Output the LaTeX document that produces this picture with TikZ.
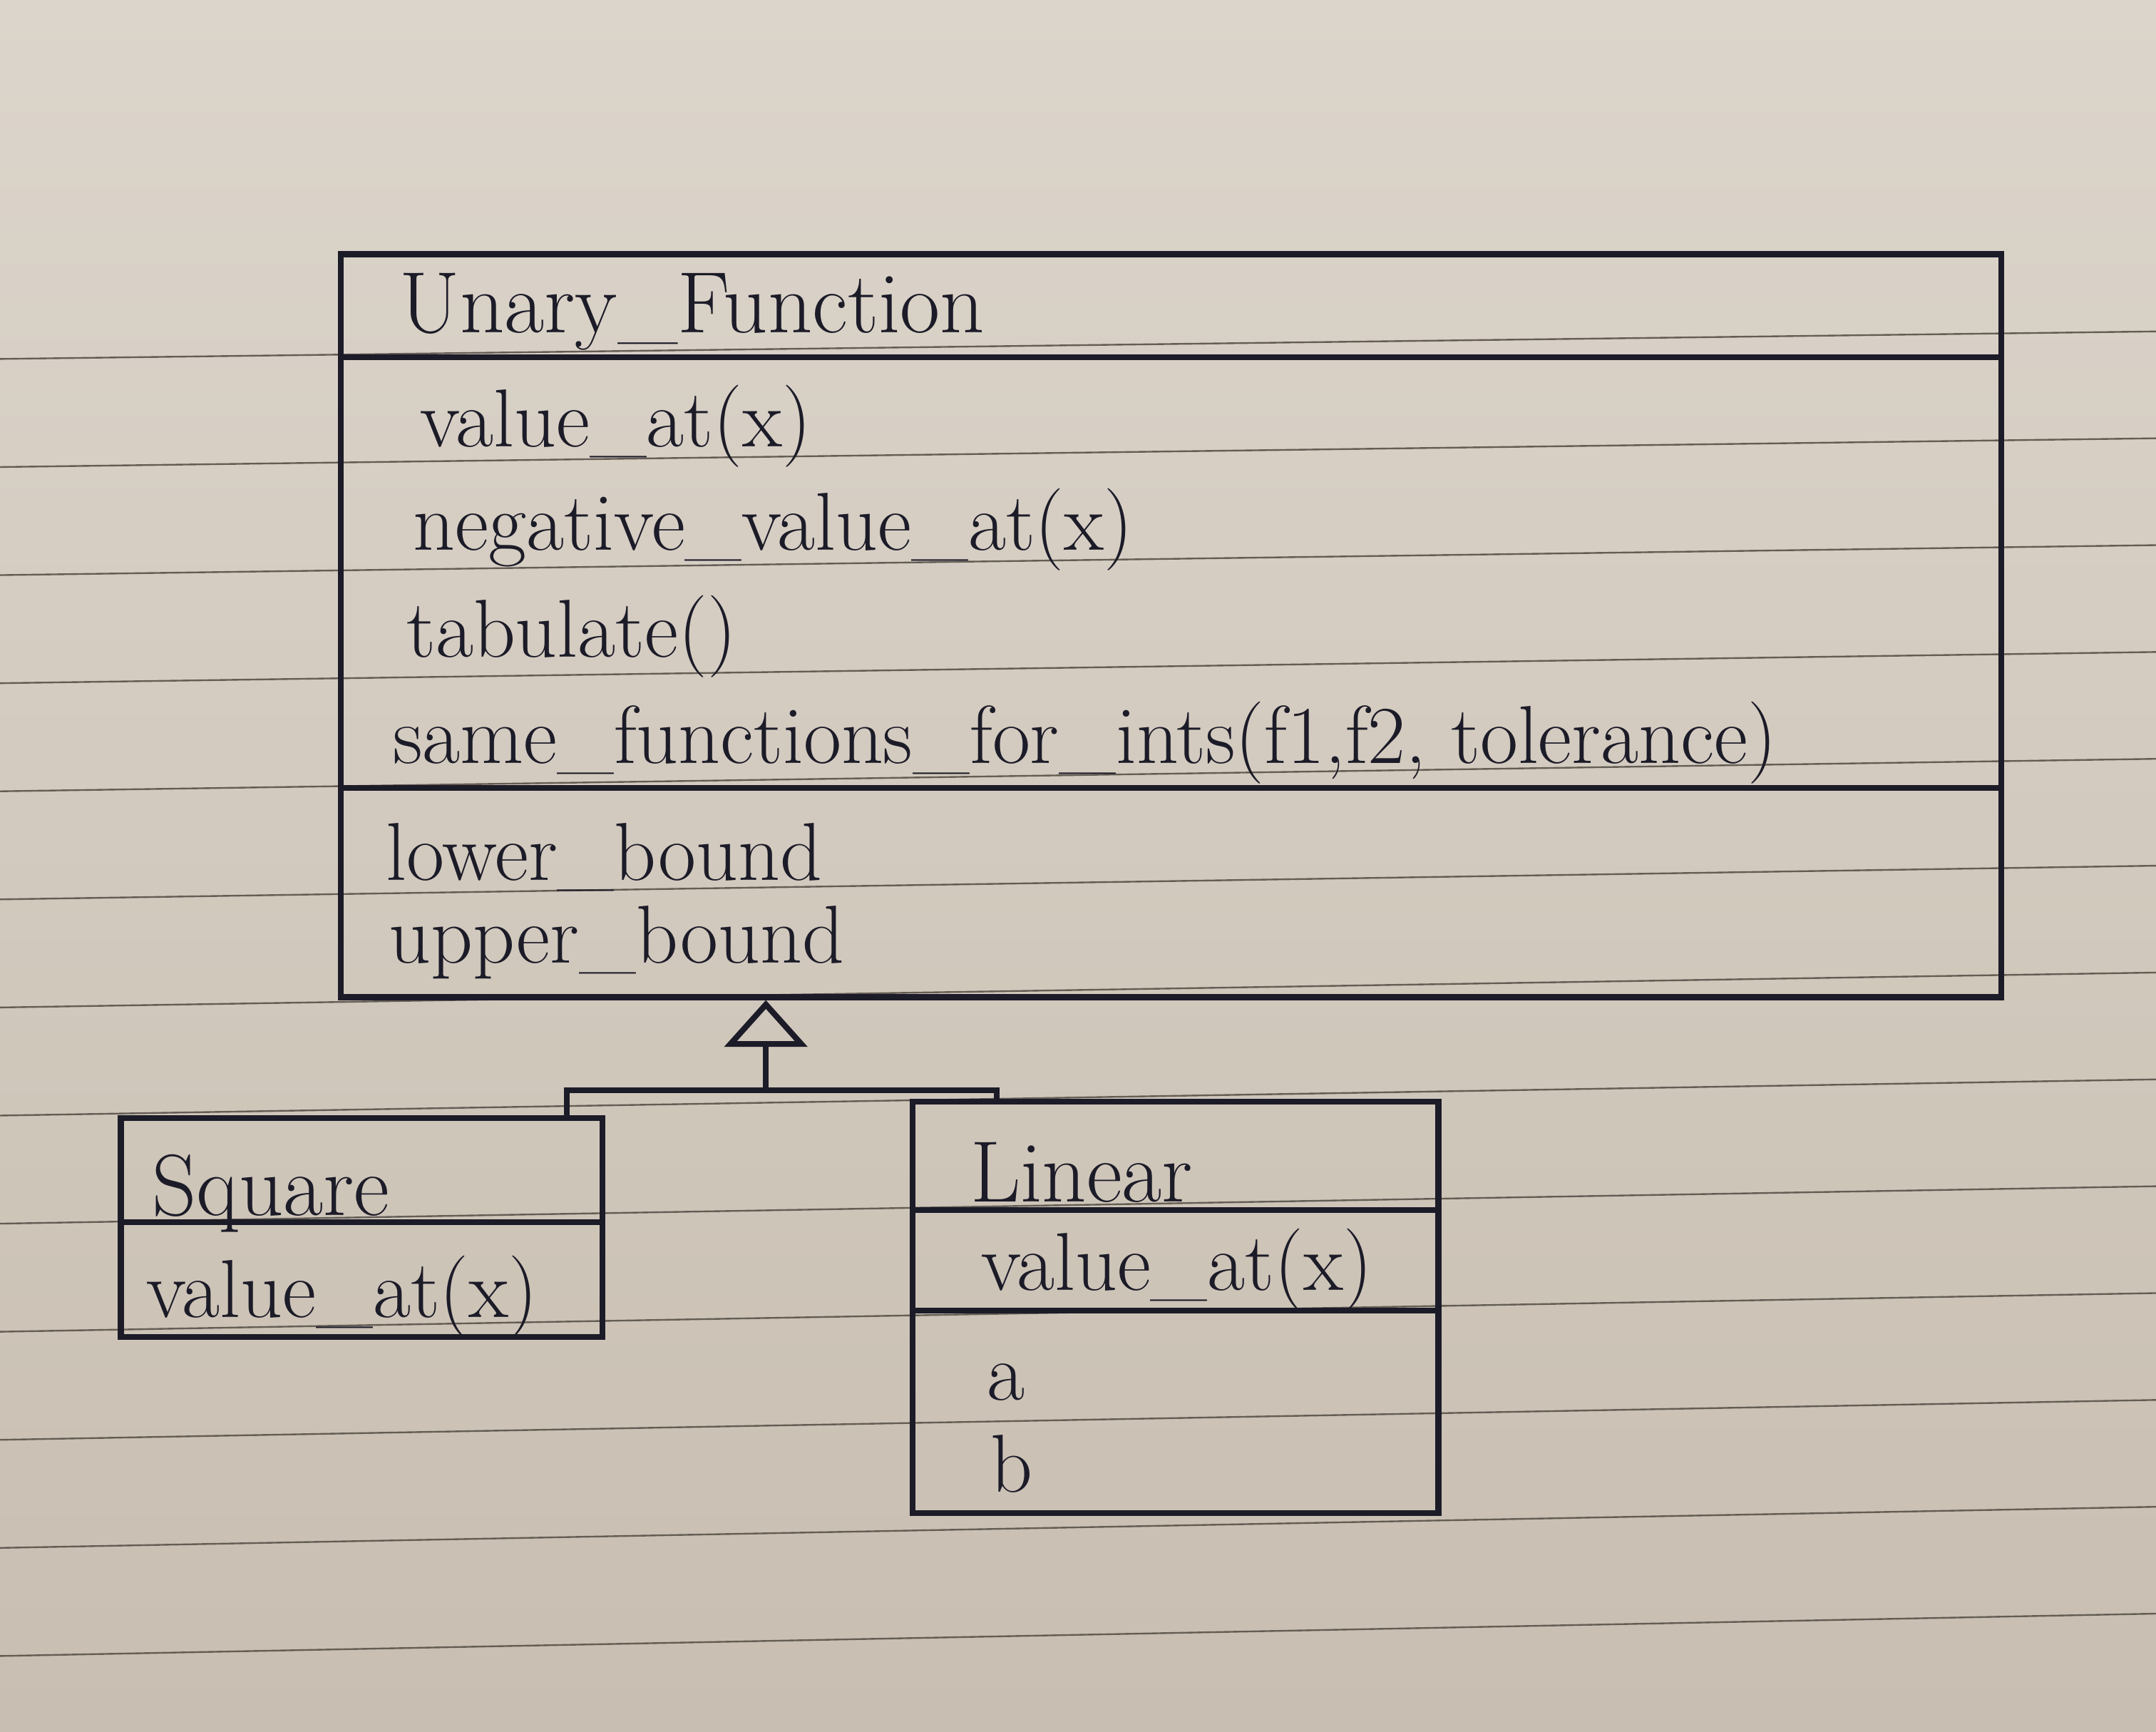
\documentclass[tikz,border=0pt]{standalone}
\usepackage{tikz}
\usetikzlibrary{calc,positioning}
\usetikzlibrary{arrows.meta}

\definecolor{paper}{RGB}{220,213,203}
\definecolor{paperdark}{RGB}{200,190,177}
\definecolor{ink}{RGB}{28,27,40}
\definecolor{rule}{RGB}{100,93,84}

\tikzset{
  classbox/.style={draw=ink,line width=1.2pt,rectangle,inner sep=0pt},
  compart/.style={draw=ink,line width=1.2pt},
  member/.style={anchor=base west,inner sep=0pt,text=ink,font=\fontsize{17}{20}\selectfont},
  classname/.style={anchor=base west,inner sep=0pt,text=ink,font=\fontsize{18}{21}\selectfont},
  gen/.style={draw=ink,line width=1.2pt,-{Triangle[open,length=3.4mm,width=6mm]}},
  ruling/.style={draw=rule,line width=0.35pt}
}

\begin{document}
\begin{tikzpicture}[x=0.01cm,y=-0.01cm]
% paper
\shade[top color=paper, bottom color=paperdark] (0,0) rectangle (1568,1259);
\useasboundingbox (0,0) rectangle (1568,1259);
\foreach \i in {0,...,12}
  \draw[ruling] (0,{261+78.6*\i}) -- (1568,{241+77.7*\i});

% Unary_Function
\node (uf) [classbox,minimum width=12.07cm,minimum height=5.40cm] at (851.5,455) {};
\draw[compart] ($(uf.north west)+(0,77)$) -- ($(uf.north east)+(0,77)$);
\draw[compart] ($(uf.north west)+(0,390)$) -- ($(uf.north east)+(0,390)$);
\node (ufname) [classname] at (290,242) {Unary\_Function};
\node (ufvalue) [member] at (305,325) {value\_at(x)};
\node (ufneg) [member] at (300,400) {negative\_value\_at(x)};
\node (uftab) [member] at (295,478) {tabulate()};
\node (ufsame) [member] at (285,555) {same\_functions\_for\_ints(f1,f2, tolerance)};
\node (uflower) [member] at (280,640) {lower\_bound};
\node (ufupper) [member] at (282,700) {upper\_bound};

% Square
\node (sq) [classbox,minimum width=3.50cm,minimum height=1.59cm] at (263,892.5) {};
\draw[compart] ($(sq.north west)+(0,78)$) -- ($(sq.north east)+(0,78)$);
\node (sqname) [classname] at (110,884) {Square};
\node (sqvalue) [member] at (106,958) {value\_at(x)};

% Linear
\node (lin) [classbox,minimum width=3.82cm,minimum height=2.99cm] at (855,950.5) {};
\draw[compart] ($(lin.north west)+(0,81)$) -- ($(lin.north east)+(0,81)$);
\draw[compart] ($(lin.north west)+(0,154)$) -- ($(lin.north east)+(0,154)$);
\node (linname) [classname] at (705,874) {Linear};
\node (linvalue) [member] at (713,938) {value\_at(x)};
\node (lina) [member] at (717,1018) {a};
\node (linb) [member] at (720,1085) {b};

% generalisation
\coordinate (bus) at (557,793);
\draw[compart] ($(sq.north east)+(-28,0)$) |- (bus) -| ($(lin.north west)+(63,0)$);
\draw[gen] (bus) -- (bus |- uf.south);
\end{tikzpicture}
\end{document}
